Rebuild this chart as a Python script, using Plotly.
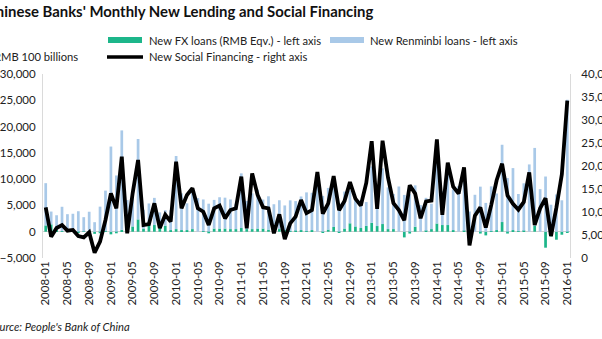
import plotly.graph_objects as go

months = [f"{y}-{m:02d}" for y in range(2008, 2016) for m in range(1, 13)] + ["2016-01"]

rmb_loans = [
    8034, 2435, 2834, 4645, 3185, 3316, 3897, 2715, 3702, 1814, 4769, 7718,
    16200, 10700, 18900, 5918, 6645, 15300, 3559, 4104, 5167, 2530, 2949, 3798,
    13900, 7000, 5107, 7740, 6394, 6034, 5328, 5452, 5955, 5877, 5640, 4807,
    10400, 5356, 6794, 7396, 5516, 6339, 4926, 5485, 4700, 5868, 5622, 6405,
    7381, 7107, 10100, 6818, 7932, 9198, 5401, 7039, 6232, 5053, 5229, 4543,
    10700, 6200, 10600, 7929, 6674, 8605, 6999, 7135, 7870, 5061, 6246, 4825,
    13200, 6445, 10500, 7747, 8708, 10800, 3852, 7025, 8572, 5483, 8527, 6973,
    14700, 10200, 11800, 7079, 9008, 12800, 14800, 8096, 10500, 5136, 7089, 5978,
    25100,
]

fx_loans = [
    1200, 1400, 300, 100, 150, 100, -100, 50, 100, -400, -300, 100,
    -500, -300, 370, 100, 1000, 2340, 600, 1270, 1270, 1140, 1140, 300,
    500, 300, 300, 500, 0, 100, -300, 600, 600, 600, 500, 500,
    700, 500, 500, 600, 600, 400, 300, 500, 300, 100, 200, 300,
    100, 300, 0, -200, 400, 900, -100, 600, 1600, 1000, 700, 1100,
    1710, 1080, 1460, 500, 500, 0, -1080, -350, 950, 0, 200, 500,
    1560, 1270, 1270, 300, 0, 200, -100, 0, -350, -700, 100, 300,
    1840, -350, 300, 100, 200, 0, 1140, 0, -3040, -890, -1520, -570,
    -250,
]

social_financing = [
    11000, 4640, 6530, 7170, 5940, 6090, 4780, 4490, 5580, 1160, 3550, 8260,
    14060, 10800, 22030, 5360, 14060, 21300, 7170, 7390, 11880, 6500, 9400, 7900,
    20940, 10800, 13700, 15150, 10800, 10070, 7170, 10800, 11380, 8620, 10430, 10800,
    17680, 6450, 18400, 13700, 11020, 10800, 5360, 9500, 4100, 7530, 8990, 12610,
    9754, 10400, 18700, 9637, 11900, 17800, 10400, 12400, 16500, 12900, 11400, 16300,
    25400, 10700, 25500, 17500, 11900, 10400, 8191, 15800, 14000, 8645, 12300, 12500,
    25800, 9387, 20700, 15500, 14000, 19700, 2731, 9200, 11000, 6626, 11500, 16900,
    20500, 13600, 11800, 10500, 12200, 18600, 7188, 10800, 13000, 4767, 11000, 18200,
    34200,
]

tick_months = months[::4]

title_text = "Chinese Banks' Monthly New Lending and Social Financing"
unit_text = "RMB 100 billions"
source_text = "Source: People's Bank of China"
legend_names = [
    "New FX loans (RMB Eqv.) - left axis",
    "New Renminbi loans - left axis",
    "New Social Financing - right axis",
]

GREEN = "#1db68a"
BLUE = "#a9c9e8"
FONT = "Lato"
W, H = 602, 339
L, R, T, B = 43, 32, 74, 81
PW, PH = W - L - R, H - T - B


def px(x):
    return (x - L) / PW


def py(y):
    return (H - B - y) / PH


fig = go.Figure()
fig.add_trace(go.Bar(x=months, y=fx_loans, name=legend_names[0], marker_color=GREEN,
                     marker_line_width=0, yaxis="y"))
fig.add_trace(go.Bar(x=months, y=rmb_loans, name=legend_names[1], marker_color=BLUE,
                     marker_line_width=0, yaxis="y"))
fig.add_trace(go.Scatter(x=months, y=social_financing, name=legend_names[2], mode="lines",
                         line=dict(color="black", width=3.8), yaxis="y2"))

shapes = [
    dict(type="rect", xref="paper", yref="paper", x0=px(108), x1=px(142), y0=py(43), y1=py(37),
         fillcolor=GREEN, line_width=0),
    dict(type="rect", xref="paper", yref="paper", x0=px(330), x1=px(364), y0=py(43), y1=py(37),
         fillcolor=BLUE, line_width=0),
    dict(type="line", xref="paper", yref="paper", x0=px(107), x1=px(143), y0=py(57), y1=py(57),
         line=dict(color="black", width=3.5)),
]

annotations = [
    dict(text=f"<b>{title_text}</b>", x=px(375), y=py(11), xanchor="right", yanchor="middle",
         font=dict(size=14.9, color="#111", family=FONT)),
    dict(text=legend_names[0], x=px(147), y=py(40), xanchor="left", yanchor="middle",
         font=dict(size=11.2, color="#222", family=FONT)),
    dict(text=legend_names[1], x=px(368), y=py(40), xanchor="left", yanchor="middle",
         font=dict(size=11.2, color="#222", family=FONT)),
    dict(text=legend_names[2], x=px(147), y=py(57), xanchor="left", yanchor="middle",
         font=dict(size=11.2, color="#222", family=FONT)),
    dict(text=unit_text, x=px(80), y=py(57), xanchor="right", yanchor="middle",
         font=dict(size=11.2, color="#222", family=FONT)),
    dict(text=f"<i>{source_text}</i>", x=px(132), y=py(326), xanchor="right", yanchor="middle",
         font=dict(size=11.2, color="#222", family=FONT)),
]
for a in annotations:
    a.update(xref="paper", yref="paper", showarrow=False)

fig.update_layout(
    width=W, height=H,
    margin=dict(l=L, r=R, t=T, b=B, pad=0, autoexpand=False),
    paper_bgcolor="white", plot_bgcolor="white",
    barmode="relative", bargap=0.5,
    showlegend=False,
    font=dict(family=FONT, size=11.5, color="#222"),
    shapes=shapes, annotations=annotations,
    xaxis=dict(type="category", tickmode="array", tickvals=tick_months, ticktext=tick_months,
               tickangle=-90, range=[-0.5, len(months) - 0.5], showgrid=False, zeroline=False,
               showline=False, ticks="", automargin=False, tickfont=dict(size=11.5, color="#222")),
    yaxis=dict(range=[-5000, 30000], dtick=5000, tickformat=",", showgrid=False,
               zeroline=True, zerolinecolor="#d0d0d0", zerolinewidth=1,
               showline=True, linecolor="#dadada", linewidth=1, ticks="", automargin=False,
               ticklabelstandoff=4, tickfont=dict(size=11.5, color="#222")),
    yaxis2=dict(range=[0, 40000], dtick=5000, tickformat=",", overlaying="y", side="right",
                showgrid=False, zeroline=False, showline=True, linecolor="#dadada", linewidth=1,
                ticks="", automargin=False, ticklabelstandoff=8,
                tickfont=dict(size=11.5, color="#222")),
)

fig.write_html("out.html", config={"displayModeBar": False})
